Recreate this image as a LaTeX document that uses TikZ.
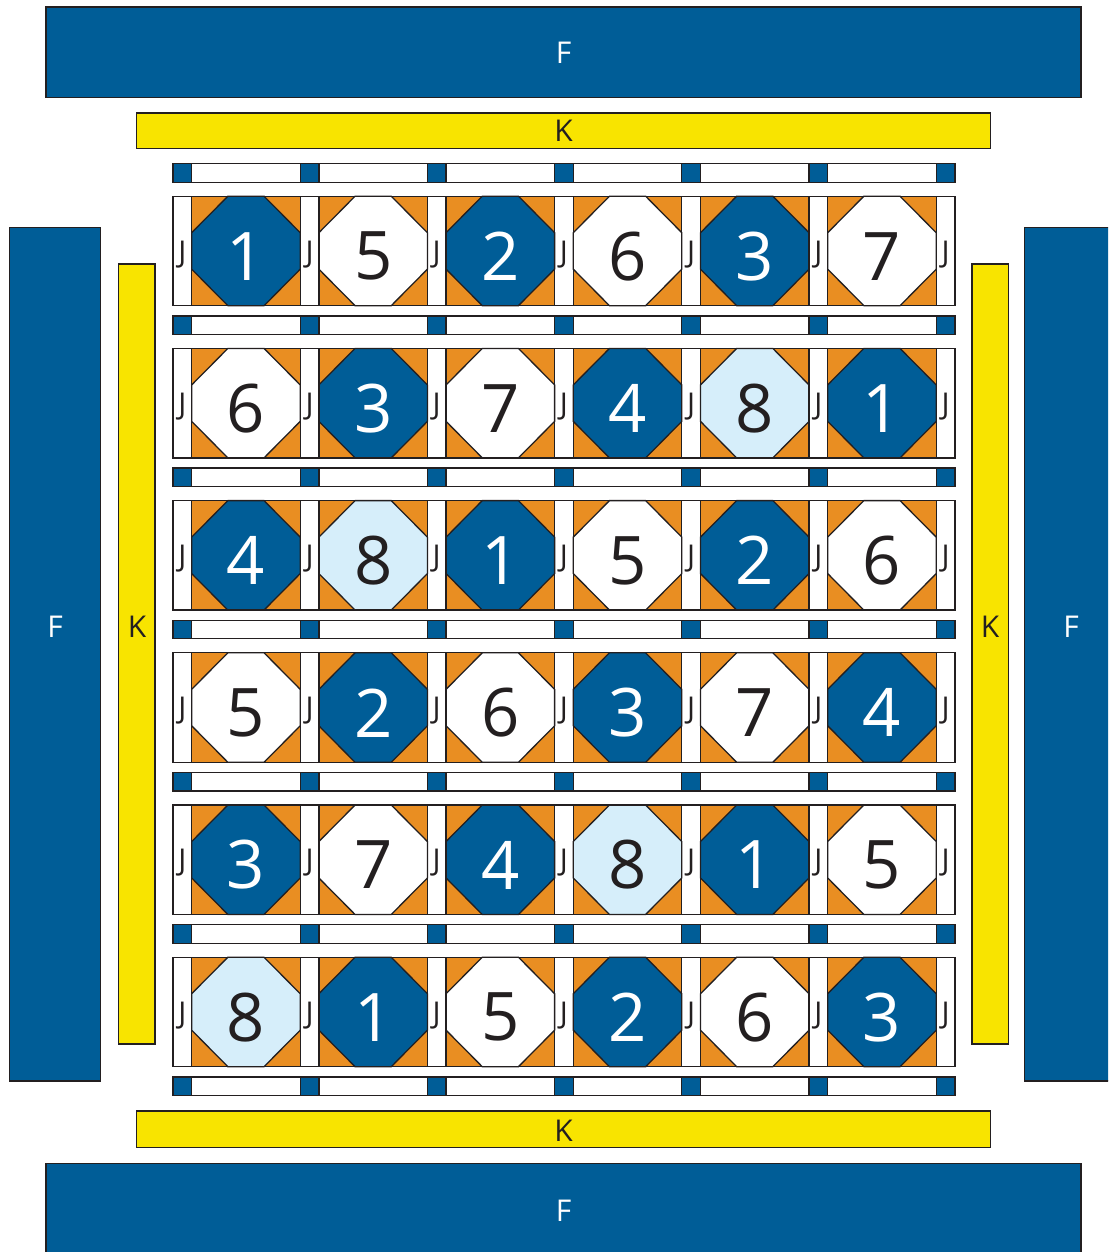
\documentclass[tikz,border=0pt]{standalone}
\usepackage{fontspec}
\setmainfont{Open Sans}
\definecolor{qblue}{RGB}{0,93,151}
\definecolor{qorange}{RGB}{233,142,34}
\definecolor{qyellow}{RGB}{248,228,0}
\definecolor{qlight}{RGB}{214,238,250}
\definecolor{qtext}{RGB}{35,31,32}
\newcommand\labsize{\fontsize{30pt}{33pt}\selectfont}
\newcommand\jsize{\fontsize{30pt}{33pt}\selectfont}
\newcommand\digsize{\fontsize{67pt}{70pt}\selectfont}
\tikzset{
  qline/.style={draw=qtext, line width=1.3pt},
  bigF/.style={qline, fill=qblue},
  bigK/.style={qline, fill=qyellow},
  lab/.style={font=\labsize, inner sep=0pt, anchor=center},
  jlab/.style={font=\jsize, inner sep=0pt, anchor=center},
  digit/.style={font=\digsize, inner sep=0pt, anchor=center},
}
\begin{document}
\begin{tikzpicture}[x=1pt,y=-1pt]
\useasboundingbox (0,0) rectangle (1108,1252);
\clip (0,0) rectangle (1108,1252);
\fill[white] (0,0) rectangle (1108,1252);
% outer borders
\draw[bigF] (46,7) rectangle (1081,97.5);
\node[lab, text=white] (ftop) at (563.5,53) {F};
\draw[bigF] (46,1163.3) rectangle (1081,1300);
\node[lab, text=white] (fbot) at (563.5,1211) {F};
\draw[bigF] (9.3,227.7) rectangle (100.7,1081);
\node[lab, text=white] (fleft) at (55,627) {F};
\draw[bigF] (1024.7,227.7) rectangle (1118,1081);
\node[lab, text=white] (fright) at (1071,627) {F};
\draw[bigK] (136.5,113) rectangle (990.3,148.5);
\node[lab, text=qtext] (ktop) at (563.5,131) {K};
\draw[bigK] (136.5,1111) rectangle (990.3,1147.5);
\node[lab, text=qtext] (kbot) at (563.5,1131) {K};
\draw[bigK] (118.7,264) rectangle (155,1044);
\node[lab, text=qtext] (kleft) at (137,627) {K};
\draw[bigK] (972,264) rectangle (1008.3,1044);
\node[lab, text=qtext] (kright) at (990,627) {K};
% sashing rows
\foreach \i in {0,...,6}{
  \pgfmathsetmacro\sy{163.7+152.2*\i}
  \foreach \j in {0,...,6}{
    \pgfmathsetmacro\sx{173+127.2*\j}
    \draw[qline, fill=qblue] (\sx,\sy) rectangle ++(18.7,18.5);
    \ifnum\j<6
      \draw[qline, fill=white] (\sx+18.7,\sy) rectangle ++(108.5,18.5);
    \fi
  }
}
% block rows
\foreach \r/\row in {0/{1,5,2,6,3,7},1/{6,3,7,4,8,1},2/{4,8,1,5,2,6},3/{5,2,6,3,7,4},4/{3,7,4,8,1,5},5/{8,1,5,2,6,3}}{
  \pgfmathsetmacro\by{163.7+32.5+152.2*\r}
  \foreach \j in {0,...,6}{
    \pgfmathsetmacro\jx{173+127.2*\j}
    \draw[qline, fill=white] (\jx,\by) rectangle ++(18.7,109.5);
    \node[jlab, text=qtext] (j-\r-\j) at (\jx+9.35,\by+58) {J};
  }
  \foreach \n [count=\c from 0] in \row {
    \pgfmathsetmacro\bx{173+18.7+127.2*\c}
    \ifnum\n<5 \def\oct{qblue}\def\tc{white}\else
      \ifnum\n=8 \def\oct{qlight}\def\tc{qtext}\else\def\oct{white}\def\tc{qtext}\fi\fi
    \fill[qorange] (\bx,\by) rectangle ++(108.5,109.5);
    \draw[qline, fill=\oct] (\bx+36.17,\by) -- (\bx+72.33,\by) -- (\bx+108.5,\by+36.5) -- (\bx+108.5,\by+73) -- (\bx+72.33,\by+109.5) -- (\bx+36.17,\by+109.5) -- (\bx,\by+73) -- (\bx,\by+36.5) -- cycle;
    \draw[qline] (\bx,\by) rectangle ++(108.5,109.5);
    \node[digit, text=\tc] (n-\r-\c) at (\bx+54.25,\by+60) {\n};
  }
}
\end{tikzpicture}
\end{document}
